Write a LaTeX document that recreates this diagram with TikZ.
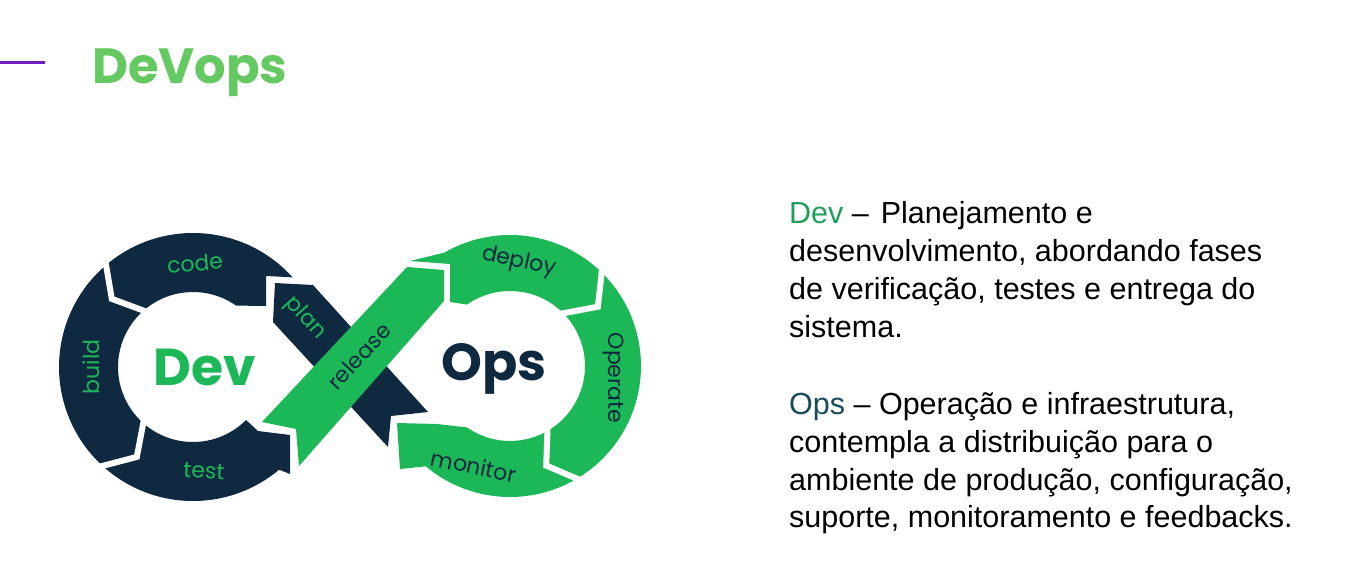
\documentclass[tikz,border=0pt]{standalone}
\usepackage{fontspec}
\setmainfont{Liberation Sans}
\newfontfamily\logofont{Poppins}
\usetikzlibrary{calc}
\definecolor{navy}{RGB}{15,41,64}
\definecolor{lgreen}{RGB}{28,184,88}
\definecolor{titlegreen}{RGB}{100,201,96}
\definecolor{lpurple}{RGB}{112,28,190}
\definecolor{devtxt}{RGB}{30,160,90}
\definecolor{opstxt}{RGB}{25,75,90}
\tikzset{
  gap/.style={draw=white, line width=6pt},
  lbl/.style={font=\logofont\fontsize{22}{22}\selectfont, inner sep=0pt},
  hub/.style={font=\logofont\bfseries\fontsize{52}{52}\selectfont,
    inner sep=0pt, anchor=base},
  body/.style={font=\fontsize{30.5}{34}\selectfont, anchor=base west,
    inner sep=0pt},
}

\begin{document}
\begin{tikzpicture}[x=1pt, y=-1pt]
    \fill[white] (0,0) rectangle (1354,576);
    \useasboundingbox (0,0) rectangle (1354,576);

    % title
    \draw[lpurple, line width=3pt] (0,62) -- (45,62);
    \node[anchor=base west, inner sep=0pt, text=titlegreen,
      font=\logofont\bfseries\fontsize{49.5}{50}\selectfont] (title) at (92,83) {DeVops};

    \coordinate (L) at (193,367);
    \coordinate (R) at (510,366);

    %% Dev side
    % code
    \fill[navy] ($(L)+(-42:134)$) arc[start angle=-42, end angle=-129, radius=134]
      -- ($(L)+(-140:106)$) -- ($(L)+(-129:75)$)
      arc[start angle=-129, end angle=-55, radius=75]
      -- (266,306) -- (266,276) -- cycle;
    % build
    \fill[navy] ($(L)+(-129:134)$) arc[start angle=-129, end angle=-226, radius=134]
      -- ($(L)+(-238:106)$) -- ($(L)+(-226:75)$)
      arc[start angle=-226, end angle=-129, radius=75]
      -- ($(L)+(-140:106)$) -- cycle;
    % test
    \fill[navy] ($(L)+(-226:134)$) arc[start angle=-226, end angle=-310, radius=134]
      -- (290,474) -- (290,435) -- (258,431) -- ($(L)+(-315:75)$)
      arc[start angle=-315, end angle=-226, radius=75]
      -- ($(L)+(-238:106)$) -- cycle;
    % plan
    \fill[navy] (388,447) -- (391,416) -- (428,412) -- (313,285)
      -- (275,283) -- (273,322) -- cycle;

    %% Ops side
    % release
    \fill[lgreen] (262,422) -- (296,429) -- (299,466) -- (444,301)
      -- (444,270) -- (407,267) -- cycle;
    % deploy
    \fill[lgreen] (410,261) -- (450,264) -- (450,302) -- ($(R)+(-125:75)$)
      arc[start angle=-125, end angle=-47.5, radius=75]
      -- ($(R)+(-34:106)$) -- ($(R)+(-47.5:131)$)
      arc[start angle=-47.5, end angle=-120, radius=131] -- cycle;
    % operate
    \fill[lgreen] ($(R)+(-47.5:131)$) arc[start angle=-47.5, end angle=57.5, radius=131]
      -- ($(R)+(70:106)$) -- ($(R)+(57.5:75)$)
      arc[start angle=57.5, end angle=-47.5, radius=75]
      -- ($(R)+(-34:106)$) -- cycle;
    % monitor
    \fill[lgreen] ($(R)+(57.5:131)$) arc[start angle=57.5, end angle=130, radius=131]
      -- (400,469) -- (397,423) -- (437,424) -- ($(R)+(125:75)$)
      arc[start angle=125, end angle=57.5, radius=75]
      -- ($(R)+(70:106)$) -- cycle;

    % white cuts between the arrows
    \draw[gap] ($(L)+(-129:140)$) -- ($(L)+(-140:106)$) -- ($(L)+(-129:70)$);
    \draw[gap] ($(L)+(-226:140)$) -- ($(L)+(-238:106)$) -- ($(L)+(-226:70)$);
    \draw[gap] ($(R)+(-47.5:137)$) -- ($(R)+(-34:106)$) -- ($(R)+(-47.5:70)$);
    \draw[gap] ($(R)+(57.5:137)$) -- ($(R)+(70:106)$) -- ($(R)+(57.5:70)$);

    % labels
    \node[lbl, text=lgreen, rotate=5] (code) at (195,263) {code};
    \node[lbl, text=lgreen, rotate=90] (build) at (91,367) {build};
    \node[lbl, text=lgreen, rotate=-3] (test) at (204,471) {test};
    \node[lbl, text=lgreen, rotate=-48] (plan) at (305,318) {plan};
    \node[lbl, text=navy, rotate=47] (release) at (359,356) {release};
    \node[lbl, text=navy, rotate=-12] (deploy) at (519,262) {deploy};
    \node[lbl, text=navy, rotate=-90] (operate) at (613,378) {Operate};
    \node[lbl, text=navy, rotate=-12] (monitor) at (474,466) {monitor};

    \node[hub, text=lgreen] (dev) at (205,385) {Dev};
    \node[hub, text=navy] (ops) at (494,380) {Ops};

    % description
    \node[body] (dev1) at (789,223) {{\color{devtxt}Dev} –\hspace{12pt}Planejamento e};
    \node[body] (dev2) at (789,261) {desenvolvimento, abordando fases};
    \node[body] (dev3) at (789,299) {de verificação, testes e entrega do};
    \node[body] (dev4) at (789,337) {sistema.};
    \node[body] (ops1) at (789,414) {{\color{opstxt}Ops} – Operação e infraestrutura,};
    \node[body] (ops2) at (789,452) {contempla a distribuição para o};
    \node[body] (ops3) at (789,490) {ambiente de produção, configuração,};
    \node[body] (ops4) at (789,527) {suporte, monitoramento e feedbacks.};
\end{tikzpicture}
\end{document}
